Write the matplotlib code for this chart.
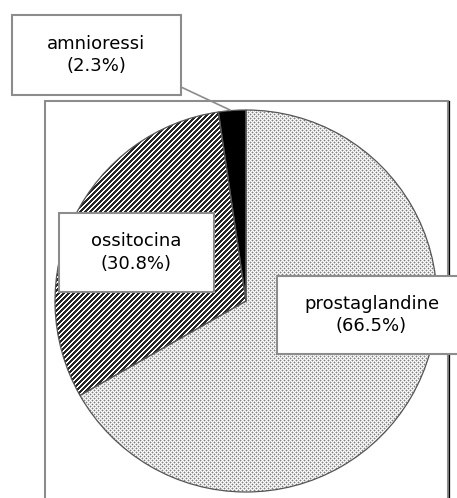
import numpy as np
import matplotlib
matplotlib.use("Agg")
import matplotlib.pyplot as plt
from matplotlib.patches import Rectangle

# data
labels = ["amnioressi", "ossitocina", "prostaglandine"]
percents = [2.3, 30.8, 66.5]

W, H = 457, 498
fig = plt.figure(figsize=(W / 100, H / 100), dpi=100)
ax = fig.add_axes([0, 0, 1, 1])
ax.set_xlim(0, W)
ax.set_ylim(0, H)
ax.axis("off")

def Y(y):
    return H - y

cx, cy, r = 246, 301, 191

wedges, _ = ax.pie(percents, startangle=90, counterclock=True,
                   center=(cx, Y(cy)), radius=r, frame=True,
                   wedgeprops=dict(edgecolor="#555555", linewidth=0.9))
ax.set_xlim(0, W)
ax.set_ylim(0, H)
ax.set_aspect("auto")
ax.axis("off")

wedges[0].set_facecolor("black")
wedges[1].set_facecolor("none")
wedges[2].set_facecolor("none")
for w in wedges:
    w.set_zorder(3)

# patterns in pixel space
rows, cols = np.mgrid[0:H, 0:W]
# diagonal stripes for ossitocina
stripes = ((cols + rows) % 5) < 2.3
stripe_img = np.where(stripes, 0.15, 1.0)
# dotted pattern for prostaglandine
dots = np.ones((H, W))
c1 = ((rows % 4 == 0) & (cols % 4 == 0)) | ((rows % 4 == 2) & (cols % 4 == 2))
dots[c1] = 0.5
nb = np.zeros_like(c1)
nb[1:, :] |= c1[:-1, :]
nb[:-1, :] |= c1[1:, :]
nb[:, 1:] |= c1[:, :-1]
nb[:, :-1] |= c1[:, 1:]
dots[nb & ~c1] = 0.8

for img, wdg in [(stripe_img, wedges[1]), (dots, wedges[2])]:
    im = ax.imshow(img, cmap="gray", vmin=0, vmax=1, extent=(0, W, 0, H),
                   origin="upper", interpolation="nearest", zorder=2)
    im.set_clip_path(wdg)

ax.set_xlim(0, W)
ax.set_ylim(0, H)
ax.set_aspect("auto")

# outer frame
ax.add_patch(Rectangle((44.5, Y(505)), 403.5, 505 - 100.5, fill=False,
                       edgecolor="#8c8c8c", linewidth=1.5, zorder=1))
ax.plot([448.7, 448.7], [Y(100.5), Y(505)], color="black", linewidth=0.9, zorder=1)

# label boxes
boxes = [
    (12, 15, 181, 95, 96.5, 55),
    (59, 213, 214, 292, 136.5, 252.5),
    (277, 276, 462, 354, 371.5, 315),
]
for (x0, y0, x1, y1, tx, ty), lab, p in zip(boxes, labels, percents):
    ax.add_patch(Rectangle((x0, Y(y1)), x1 - x0, y1 - y0, facecolor="white",
                           edgecolor="#8c8c8c", linewidth=1.5, zorder=5))
    ax.text(tx, Y(ty), f"{lab}\n({p}%)", ha="center", va="center",
            fontsize=13, family="DejaVu Sans", color="black",
            linespacing=1.35, zorder=6)

# leader line
ax.plot([181, 230], [Y(87), Y(110)], color="#8c8c8c", linewidth=1.2, zorder=4)

fig.savefig("out.png", dpi=100)
